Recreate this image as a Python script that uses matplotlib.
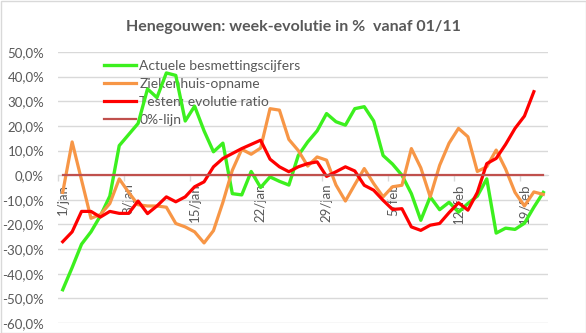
import matplotlib
matplotlib.use("Agg")
import matplotlib.pyplot as plt
from matplotlib.patches import Rectangle
from matplotlib.ticker import FuncFormatter, FixedLocator
import numpy as np

plt.rcParams['font.family'] = ['Lato', 'DejaVu Sans']

# Categories: 1 jan .. 21 feb (one point per day)
jan_days = list(range(1, 32))
feb_days = list(range(1, 22))
dates = [f"{d}/jan" for d in jan_days] + [f"{d}/feb" for d in feb_days]
label_every = 7

title = "Henegouwen: week-evolutie in %  vanaf 01/11"
series_names = ["Actuele besmettingscijfers", "Ziekenhuis-opname",
                "Testen: evolutie ratio", "0%-lijn"]

# values in %
besmettingen = [-46.5, -37.5, -28, -23, -16.5, -8.5, 12, 16.5, 21, 35,
                31.5, 41.5, 40.5, 22, 28, 18, 9.5, 13, -7.5, -8,
                1.5, -5, -0.7, -2.5, -4, 8, 13.5, 18, 25, 21.7,
                20.3, 27, 27.8, 22, 8, 4.5, 0, -7.5, -18.3, -8.8,
                -14, -11, -15, -11.5, -8.5, -1.5, -23.5, -21.5, -22, -19.5,
                -13, -7]
ziekenhuis = [-7, 13.5, -2, -17.5, -16, -11.5, -1.5, -7, -12, -12.5,
              -12.5, -13, -19.6, -21, -23, -27.5, -22.5, -11, 2, 10.5,
              8.5, 11, 27, 26.4, 14.5, 10, 3.7, 7.4, 6.1, -4,
              -10.5, -3.8, 2.7, -3.4, -8.8, -4.7, -4.1, 10.8, 3, -8.8,
              4, 13, 19, 15.6, 1.5, 3.4, 10.2, 2.5, -7, -12.5,
              -6.8, -7.8]
testen = [-27, -23, -14.7, -14.7, -17, -14.7, -15.5, -15.5, -10.5, -15.6,
          -12.5, -8.8, -10.8, -8.8, -4.7, -2.7, 3.4, 6.8, 8.8, 10.8,
          12.5, 14.2, 6.5, 3.4, 1.4, 3.4, 4.7, 5.4, -0.5, 1.4,
          3.4, 1.7, -4.1, -6.1, -10.2, -13.9, -13.6, -21, -22.4, -20.3,
          -19.6, -15.2, -11.2, -14.2, -7, 4.7, 6.8, 12.5, 19, 24,
          33.9, None]
nul_lijn = [0] * len(dates)

y_ticks = [-60, -50, -40, -30, -20, -10, 0, 10, 20, 30, 40, 50]

colors = ["#3CF01E", "#F79646", "#FF0000", "#C0504D"]
text_color = "#595959"
grid_color = "#D9D9D9"

fig = plt.figure(figsize=(5.86, 3.33), dpi=100)
ax = fig.add_axes([58/586, 1-323/333, (548-58)/586, (323-52)/333])

x = list(range(len(dates)))
def arr(v):
    return np.array([np.nan if a is None else a for a in v], dtype=float)

lines = []
for vals, c, lw, name in zip([besmettingen, ziekenhuis, testen, nul_lijn], colors,
                             [2.4, 2.3, 2.3, 1.6], series_names):
    ln, = ax.plot(x, arr(vals), color=c, lw=lw, label=name, solid_joinstyle='round', zorder=3)
    lines.append(ln)

ax.set_xlim(-0.5, len(dates) - 0.5)
ax.set_ylim(y_ticks[0], y_ticks[-1])
ax.set_yticks(y_ticks)
ax.yaxis.set_major_formatter(FuncFormatter(lambda v, p: f"{v:.1f}%".replace(".", ",")))
ax.grid(axis='y', color=grid_color, lw=1)
ax.set_axisbelow(True)

for s in ['left', 'right', 'top']:
    ax.spines[s].set_visible(False)
ax.spines['bottom'].set_position(('data', 0))
ax.spines['bottom'].set_color(grid_color)

lab_pos = list(range(0, len(dates), label_every))
ax.set_xticks(lab_pos)
ax.set_xticklabels([dates[i] for i in lab_pos], rotation=90, va='top', ha='center')
ax.xaxis.set_minor_locator(FixedLocator([p - 0.5 for p in lab_pos]))
ax.tick_params(axis='x', which='major', length=0, pad=6, labelsize=9.5, labelcolor=text_color)
ax.tick_params(axis='x', which='minor', length=4, color=grid_color, width=1)
ax.tick_params(axis='y', length=0, pad=10, labelsize=9.5, labelcolor=text_color)

leg = ax.legend(handles=lines, loc='upper left', bbox_to_anchor=(104/586, 1-60/333),
                bbox_transform=fig.transFigure, frameon=False, fontsize=10,
                handlelength=2.3, handletextpad=0.25, labelspacing=0.44,
                borderpad=0, borderaxespad=0, labelcolor=text_color)
leg.set_zorder(2)

fig.text(0.5, 1-27/333, title, ha='center', va='center', fontsize=11.5,
         fontweight='bold', color=text_color)

fig.patches.append(Rectangle((0.5/586, 0.5/333), 1-1/586, 1-1/333, transform=fig.transFigure,
                             fill=False, edgecolor=grid_color, lw=1))

fig.savefig("out.png", dpi=100)
